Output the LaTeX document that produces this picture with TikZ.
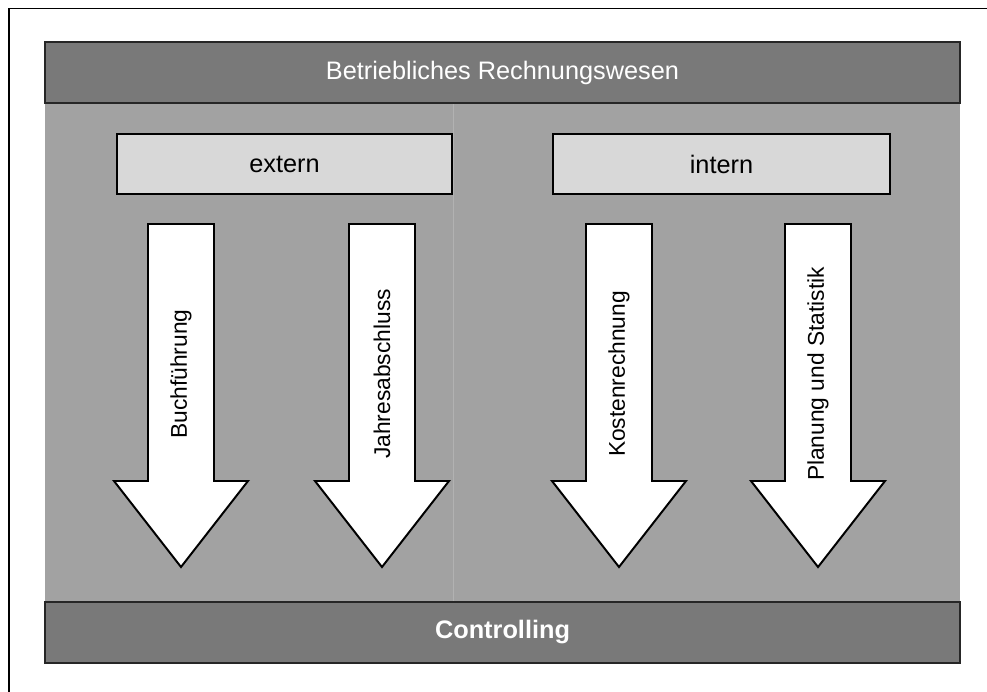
\documentclass[tikz,border=0pt]{standalone}
\usepackage{fontspec}
\setmainfont{Liberation Sans}
\usetikzlibrary{positioning}
\definecolor{bardark}{HTML}{797979}
\definecolor{midgray}{HTML}{A2A2A2}
\definecolor{boxlight}{HTML}{D8D8D8}
\definecolor{splitline}{HTML}{B2B2B2}
\tikzset{
    bar/.style = {rectangle, draw=black!85, line width=1.4pt, fill=bardark, text=white, inner sep=0pt, minimum width=22.875cm, minimum height=1.525cm, font=\fontsize{18}{22}\selectfont},
    subbox/.style = {rectangle, draw=black, line width=1.1pt, fill=boxlight, inner sep=0pt, minimum height=1.5cm, font=\fontsize{18}{22}\selectfont},
    downarrow/.style = {draw=black, line width=1.4pt, fill=white, line join=miter},
    arrowtext/.style = {rotate=90, inner sep=0pt, font=\fontsize{16.2}{19}\selectfont},
    frameline/.style = {draw=black, line width=1pt},
}
\begin{document}
\begin{tikzpicture}
  \useasboundingbox (0,0) rectangle (24.675,-17.3);
  \draw[frameline] (0.225,-17.6) -- (0.225,-0.22) -- (25,-0.22);

  % middle area
  \fill[midgray] (1.125,-2.575) rectangle (24,-15.05);
  \draw[splitline, line width=0.6pt] (11.325,-2.575) -- (11.325,-15.05);

  \node[bar] (rw) at (12.5625,-1.8125) {Betriebliches Rechnungswesen};
  \node[bar] (ctrl) at (12.5625,-15.8125) {\bfseries Controlling};

  \node[subbox, minimum width=8.375cm] (ext) at (7.1125,-4.1) {extern};
  \node[subbox, minimum width=8.425cm] (int) at (18.0375,-4.1) {intern};

  % arrows
  \draw[downarrow] (3.7,-5.6) -- (5.35,-5.6) -- (5.35,-12.025) -- (6.2,-12.025) -- (4.525,-14.175) -- (2.85,-12.025) -- (3.7,-12.025) -- cycle;
  \draw[downarrow] (8.725,-5.6) -- (10.375,-5.6) -- (10.375,-12.025) -- (11.225,-12.025) -- (9.55,-14.175) -- (7.875,-12.025) -- (8.725,-12.025) -- cycle;
  \draw[downarrow] (14.65,-5.6) -- (16.3,-5.6) -- (16.3,-12.025) -- (17.15,-12.025) -- (15.475,-14.175) -- (13.8,-12.025) -- (14.65,-12.025) -- cycle;
  \draw[downarrow] (19.625,-5.6) -- (21.275,-5.6) -- (21.275,-12.025) -- (22.125,-12.025) -- (20.45,-14.175) -- (18.775,-12.025) -- (19.625,-12.025) -- cycle;

  \node[arrowtext] (buch) at (4.525,-9.35) {Buchführung};
  \node[arrowtext] (jahr) at (9.55,-9.35) {Jahresabschluss};
  \node[arrowtext] (kost) at (15.475,-9.35) {Kostenrechnung};
  \node[arrowtext] (plan) at (20.45,-9.35) {Planung und Statistik};
\end{tikzpicture}
\end{document}
